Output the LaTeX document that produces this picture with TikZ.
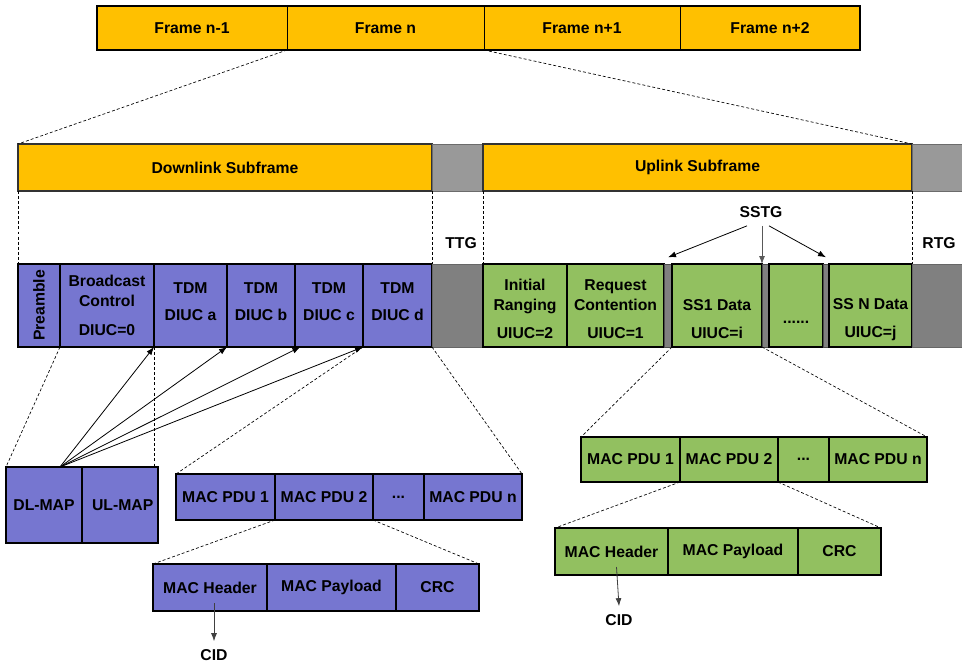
\documentclass[tikz,border=0pt]{standalone}
\usepackage{fontspec}
\setmainfont{Liberation Sans}
\usetikzlibrary{calc,arrows.meta}
\definecolor{orng}{RGB}{255,192,0}
\definecolor{blu}{RGB}{118,118,208}
\definecolor{grn}{RGB}{146,192,96}
\definecolor{gryl}{RGB}{153,153,153}
\definecolor{gryd}{RGB}{128,128,128}
\newcommand{\mkbox}[7]{%
  \node[#6, minimum width={((#4)-(#2))*0.75pt}, minimum height={((#5)-(#3))*0.75pt}]
    (#1) at ({((#2)+(#4))/2},{((#3)+(#5))/2}) {#7};}
\newcommand{\xdepth}{\rule[-6pt]{0pt}{6pt}}
\newcommand{\xtop}{\rule{0pt}{14.3pt}}
\tikzset{
  base/.style={inner sep=0pt, outer sep=0pt, align=center},
  frm/.style={base, fill=orng, draw=black, line width=0.5pt},
  sub/.style={base, fill=orng, draw=black!80, line width=0.9pt},
  gtop/.style={base, fill=gryl, draw=gryl!70!black, line width=0.5pt},
  gmid/.style={base, fill=gryd, draw=gryd!80!black, line width=0.5pt},
  bcell/.style={base, fill=blu, draw=black, line width=0.9pt},
  gcell/.style={base, fill=grn, draw=black, line width=0.9pt},
  gap/.style={base, fill=gryd, draw=black!70, line width=0.5pt},
  dsh/.style={line width=0.5pt, dash pattern=on 2.2pt off 1.6pt},
  arr/.style={line width=0.6pt, -{Latex[length=6pt,width=4.5pt]}},
  plain/.style={inner sep=6pt},
}
\begin{document}
\begin{tikzpicture}[x=0.75pt,y=-0.75pt, font=\bfseries\fontsize{11.8}{15}\selectfont]
\useasboundingbox (0,0) rectangle (962,665);
% top frame bar
\mkbox{f1}{97}{6}{287}{50}{frm}{Frame n-1}
\mkbox{f2}{287}{6}{484}{50}{frm}{Frame n}
\mkbox{f3}{484}{6}{680}{50}{frm}{Frame n+1}
\mkbox{f4}{680}{6}{860}{50}{frm}{Frame n+2}
\draw[line width=1.5pt] (f1.north west) rectangle (f4.south east);
% subframes
\mkbox{dls}{18}{144}{432}{191}{sub}{Downlink Subframe}
\mkbox{ttgtop}{432}{144}{483}{191}{gtop}{}
\mkbox{uls}{483}{144}{912}{191}{sub}{Uplink Subframe}
\mkbox{rtgtop}{912}{144}{963}{191}{gtop}{}
% downlink row
\mkbox{pre}{18}{264}{60}{347}{bcell}{\rotatebox{90}{Preamble}}
\mkbox{bc}{60}{264}{154}{347}{bcell}{Broadcast\\Control\\[6.5pt]DIUC=0}
\mkbox{ta}{154}{264}{227}{347}{bcell}{TDM\\[5pt]DIUC a\xdepth}
\mkbox{tb}{227}{264}{295}{347}{bcell}{TDM\\[5pt]DIUC b\xdepth}
\mkbox{tc}{295}{264}{363}{347}{bcell}{TDM\\[5pt]DIUC c\xdepth}
\mkbox{td}{363}{264}{432}{347}{bcell}{TDM\\[5pt]DIUC d\xdepth}
\mkbox{ttg}{432}{264}{483}{347}{gmid}{}
% uplink row
\mkbox{ir}{483}{264}{567}{347}{gcell}{\xtop Initial\\Ranging\\[6pt]UIUC=2}
\mkbox{rc}{567}{264}{664}{347}{gcell}{\xtop Request\\Contention\\[6pt]UIUC=1}
\mkbox{g1}{664}{264}{672}{347}{gap}{}
\mkbox{s1}{672}{264}{762}{347}{gcell}{\xtop\\SS1 Data\\[6pt]UIUC=i}
\mkbox{g2}{762}{264}{769}{347}{gap}{}
\mkbox{dd}{769}{264}{823}{347}{gcell, label={[yshift=-12.4pt]center:......}}{}
\mkbox{g3}{823}{264}{829}{347}{gap}{}
\mkbox{sn}{829}{264}{912}{347}{gcell}{\xtop\\SS N Data\\[6pt]UIUC=j}
\mkbox{rtg}{912}{264}{963}{347}{gmid}{}
% labels
\node[plain] (ttglbl) at (461,243) {TTG};
\node[plain] (rtglbl) at (939,243) {RTG};
\node[plain] (sstg) at (761,212) {SSTG};
% dashed expansion lines
\draw[dsh] (f2.south west) -- (dls.north west);
\draw[dsh] (f3.south west) -- (uls.north east);
\draw[dsh] (dls.south west) -- (pre.north west);
\draw[dsh] (dls.south east) -- (td.north east);
\draw[dsh] (uls.south west) -- (ir.north west);
\draw[dsh] (uls.south east) -- (sn.north east);
% SSTG arrows
\draw[arr] ([xshift=-10.5pt]sstg.south) -- ([yshift=5pt]g1.north);
\draw[arr, draw=black!65] (sstg.south -| g2.north west) -- (g2.north west);
\draw[arr] ([xshift=6pt]sstg.south) -- ([yshift=5pt]g3.north);
% DL-MAP / UL-MAP
\mkbox{dlmap}{6}{467}{82}{543}{bcell}{DL-MAP}
\mkbox{ulmap}{82}{467}{158}{543}{bcell}{\hspace{4pt}UL-MAP}
\draw[dsh] (bc.south west) -- (dlmap.north west);
\draw[dsh] (bc.south east) -- ([xshift=-3pt]ulmap.north east);
\coordinate (mapsrc) at ($(dlmap.north west)!0.71!(dlmap.north east)$);
\draw[arr] (mapsrc) -- (ta.south west);
\draw[arr] (mapsrc) -- (tb.south west);
\draw[arr] (mapsrc) -- ([xshift=4pt]tc.south west);
\draw[arr] (mapsrc) -- (td.south west);
% DL MAC PDUs
\mkbox{dp1}{176}{474}{275}{520}{bcell}{MAC PDU 1}
\mkbox{dp2}{275}{474}{373}{520}{bcell}{MAC PDU 2}
\mkbox{dp3}{373}{474}{424}{520}{bcell}{...}
\mkbox{dpn}{424}{474}{522}{520}{bcell}{MAC PDU n}
\draw[dsh] (td.south west) -- (dp1.north west);
\draw[dsh] (td.south east) -- (dpn.north east);
\mkbox{dh1}{153}{564}{267}{611}{bcell}{MAC Header}
\mkbox{dh2}{267}{564}{396}{611}{bcell}{MAC Payload}
\mkbox{dh3}{396}{564}{479}{611}{bcell}{CRC}
\draw[dsh] (dp2.south west) -- (dh1.north west);
\draw[dsh] (dp2.south east) -- (dh3.north east);
\node[plain] (cidd) at (214,655) {CID};
\draw[arr, draw=black!75] ($(dh1.south)+(4,-8)$) -- (cidd.north);
% UL MAC PDUs
\mkbox{up1}{581}{437}{680}{482}{gcell}{MAC PDU 1}
\mkbox{up2}{680}{437}{778}{482}{gcell}{MAC PDU 2}
\mkbox{up3}{778}{437}{829}{482}{gcell}{...}
\mkbox{upn}{829}{437}{927}{482}{gcell}{MAC PDU n}
\draw[dsh] (s1.south west) -- (up1.north west);
\draw[dsh] (s1.south east) -- (upn.north east);
\mkbox{uh1}{555}{528}{668}{575}{gcell}{MAC Header}
\mkbox{uh2}{668}{528}{798}{575}{gcell}{MAC Payload}
\mkbox{uh3}{798}{528}{881}{575}{gcell}{CRC}
\draw[dsh] (up2.south west) -- (uh1.north west);
\draw[dsh] (up2.south east) -- (uh3.north east);
\node[plain] (cidu) at (619,620) {CID};
\draw[arr, draw=black!75] ($(uh1.south)+(5,-8)$) -- (cidu.north);
\end{tikzpicture}
\end{document}
